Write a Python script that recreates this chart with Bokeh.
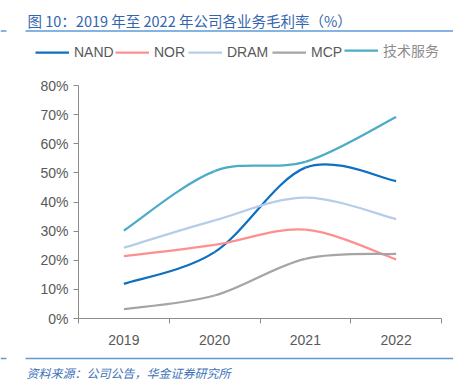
from bokeh.plotting import figure
from bokeh.models import (Range1d, FixedTicker, NumeralTickFormatter, Label,
                          Legend, LegendItem)
from bokeh.embed import file_html
from bokeh.resources import INLINE

years = ["2019", "2020", "2021", "2022"]
nand = [11.9, 22.8, 51.8, 47.2]
nor = [21.4, 25.3, 30.5, 20.3]
dram = [24.3, 33.7, 41.5, 34.1]
mcp = [3.2, 7.9, 20.5, 22.2]
tech = [30.2, 50.6, 53.8, 69.2]

names = ["NAND", "NOR", "DRAM", "MCP", "技术服务"]
values = [nand, nor, dram, mcp, tech]
colors = ["#0F6FC0", "#FF8F8F", "#B7CCE8", "#A5A5A5", "#4BACC6"]

W, H = 453, 391
# pixel layout of the plotting area (left, right, bottom, top)
PL, PR, PB, PT = 78, 441, 318, 85
XMAX, YMAX = 4.0, 0.8
sx = (PR - PL) / XMAX
sy = (PB - PT) / YMAX


def px_x(px):
    return (px - PL) / sx


def px_y(py):
    return (PB - py) / sy


p = figure(width=W, height=H, output_backend="svg", toolbar_location=None,
           x_range=Range1d(px_x(0), px_x(W)), y_range=Range1d(px_y(H), px_y(0)),
           min_border_left=0, min_border_right=0, min_border_top=0,
           min_border_bottom=0)
p.outline_line_color = None
p.xgrid.grid_line_color = None
p.ygrid.grid_line_color = None

xs = [i + 0.5 for i in range(len(years))]


def smooth(vals):
    ys = [v / 100 for v in vals]
    n = len(ys)
    px = [xs[0]] + xs + [xs[-1]]
    py = [ys[0]] + ys + [ys[-1]]
    seg = dict(x0=[], y0=[], x1=[], y1=[], cx0=[], cy0=[], cx1=[], cy1=[])
    for i in range(n - 1):
        a, b, c, d = i, i + 1, i + 2, i + 3
        seg["x0"].append(px[b]); seg["y0"].append(py[b])
        seg["x1"].append(px[c]); seg["y1"].append(py[c])
        seg["cx0"].append(px[b] + (px[c] - px[a]) / 6)
        seg["cy0"].append(py[b] + (py[c] - py[a]) / 6)
        seg["cx1"].append(px[c] - (px[d] - px[b]) / 6)
        seg["cy1"].append(py[c] - (py[d] - py[b]) / 6)
    return seg


renderers = []
for name, vals, col in zip(names, values, colors):
    r = p.bezier(**smooth(vals), line_color=col, line_width=2.25)
    renderers.append(r)

# axes
p.xaxis.fixed_location = 0
p.xaxis.bounds = (0, XMAX)
p.xaxis.ticker = FixedTicker(ticks=xs, minor_ticks=[0, 1, 2, 3, 4])
p.xaxis.major_label_overrides = {x: y for x, y in zip(xs, years)}
p.xaxis.major_tick_out = 0
p.xaxis.major_tick_in = 0
p.xaxis.minor_tick_out = 5
p.xaxis.minor_tick_in = 0
p.xaxis.axis_line_color = "#8C8C8C"
p.xaxis.minor_tick_line_color = "#8C8C8C"
p.xaxis.major_label_text_font = "Liberation Sans"
p.xaxis.major_label_text_font_size = "14px"
p.xaxis.major_label_text_color = "#595959"
p.xaxis.major_label_standoff = 11

p.yaxis.fixed_location = 0
p.yaxis.bounds = (0, YMAX)
p.yaxis.ticker = FixedTicker(ticks=[i / 10 for i in range(9)], minor_ticks=[])
p.yaxis.formatter = NumeralTickFormatter(format="0%")
p.yaxis.major_tick_out = 5
p.yaxis.major_tick_in = 0
p.yaxis.axis_line_color = "#8C8C8C"
p.yaxis.major_tick_line_color = "#8C8C8C"
p.yaxis.major_label_text_font = "Liberation Sans"
p.yaxis.major_label_text_font_size = "14px"
p.yaxis.major_label_text_color = "#595959"
p.yaxis.major_label_standoff = 5

# legends, one per item for precise placement
leg_x = [35, 115, 188, 272, 344]
for name, col, r, lx in zip(names, colors, renderers, leg_x):
    cjk = name == "技术服务"
    lg = Legend(items=[LegendItem(label=name, renderers=[r])],
                location=(lx, H - 52 - 8),
                orientation="horizontal", padding=0, margin=0, spacing=0,
                glyph_width=34, glyph_height=16, label_height=16,
                label_standoff=5, border_line_color=None,
                background_fill_alpha=0,
                label_text_font="Noto Sans CJK SC" if cjk else "Liberation Sans",
                label_text_font_size="14px",
                label_text_color="#8C8C8C" if cjk else "#595959")
    p.add_layout(lg)

# title and source
p.add_layout(Label(x=px_x(27), y=px_y(20),
                   text="图 10：2019 年至 2022 年公司各业务毛利率（%）",
                   text_font="Noto Sans CJK SC", text_font_size="14.5px",
                   text_color="#3466AE", text_baseline="middle"))
p.add_layout(Label(x=px_x(26), y=px_y(372),
                   text="资料来源：公司公告，华金证券研究所",
                   text_font="Noto Sans CJK SC", text_font_size="12px",
                   text_font_style="italic",
                   text_color="#3D72B8", text_baseline="middle"))

# horizontal rules
for yy in (30.5, 358):
    p.segment(x0=[px_x(25), px_x(0)], x1=[px_x(W), px_x(6)],
              y0=[px_y(yy)] * 2, y1=[px_y(yy)] * 2,
              line_color="#5B9BD5", line_width=1.5)

open("out.html", "w").write(file_html(p, INLINE))
